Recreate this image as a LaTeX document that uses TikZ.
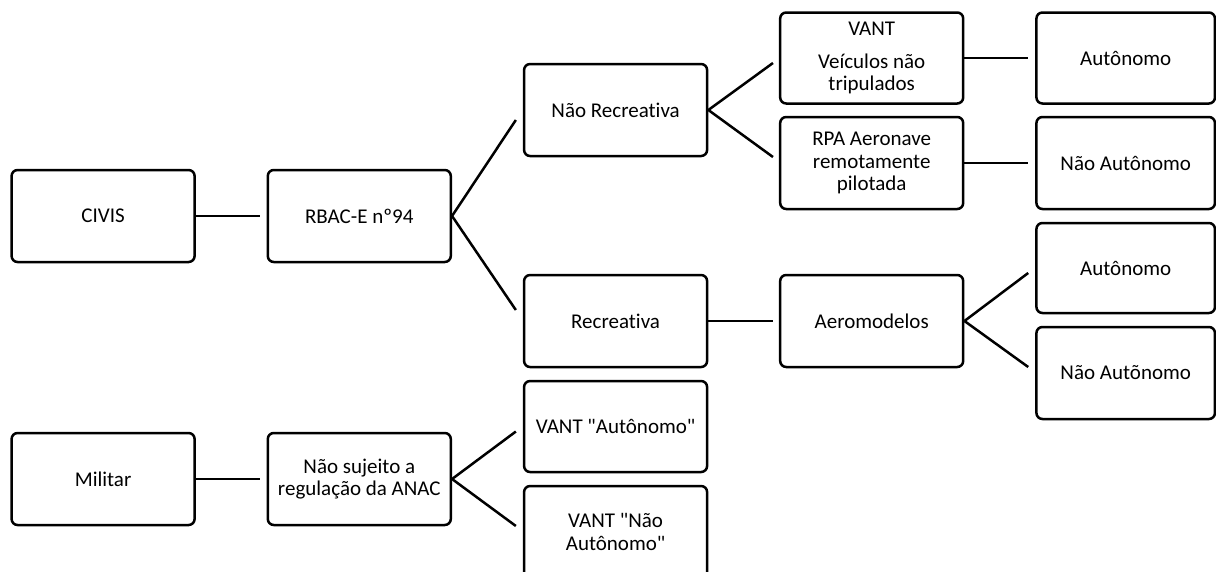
\documentclass[tikz,border=0pt]{standalone}
\usepackage{fontspec}
\newfontfamily\calib{Carlito}[Ligatures=NoCommon]
\usetikzlibrary{calc}
\begin{document}
\begin{tikzpicture}[x=1pt,y=-1pt,
  box/.style={draw,line width=2.5pt,rounded corners=6pt,minimum height=92pt,minimum width=183pt,inner sep=2pt,align=center,font=\calib\fontsize{21}{22.5}\selectfont},
  rbox/.style={box,minimum width=178.5pt},
  con/.style={line width=2.5pt}]
\useasboundingbox (0,0) rectangle (1216,571);
\clip (0,0) rectangle (1216,571);
\node[box] (civis) at (103.1,216) {CIVIS};
\node[box] (rbac) at (359.3,216) {RBAC-E nº94};
\node[box] (nr) at (615.6,110) {Não Recreativa};
\node[box] (rec) at (615.6,321) {Recreativa};
\node[box,minimum height=91pt] (vant) at (871.7,58) {VANT\\[10pt]Veículos não\\tripulados};
\node[box] (rpa) at (871.7,163) {RPA Aeronave\\remotamente\\pilotada};
\node[rbox,minimum height=91pt] (aut1) at (1125.7,58) {Autônomo};
\node[rbox] (naut1) at (1125.7,163) {Não Autônomo};
\node[box] (aero) at (871.7,321) {Aeromodelos};
\node[rbox,minimum height=90pt] (aut2) at (1125.7,268) {Autônomo};
\node[rbox] (naut2) at (1125.7,373) {Não Autõnomo};
\node[box] (mil) at (103.1,479) {Militar};
\node[box] (nsj) at (359.3,479) {Não sujeito a\\regulação da ANAC};
\node[box,minimum height=91pt] (va) at (615.6,426.5) {VANT "Autônomo"};
\node[box] (vna) at (615.6,532) {VANT "Não\\Autônomo"};
\draw[con] (civis.east) -- ($(rbac.west)+(-7,0)$);
\draw[con] (rbac.east) -- ($(nr.west)+(-7,10)$);
\draw[con] (rbac.east) -- ($(rec.west)+(-7,-11)$);
\draw[con] (nr.east) -- ($(vant.west)+(-6,5)$);
\draw[con] (nr.east) -- ($(rpa.west)+(-6,-6)$);
\draw[con] (vant.east) -- ($(aut1.west)+(-7,0)$);
\draw[con] (rpa.east) -- ($(naut1.west)+(-7,0)$);
\draw[con] (rec.east) -- ($(aero.west)+(-6,0)$);
\draw[con] (aero.east) -- ($(aut2.west)+(-7,5)$);
\draw[con] (aero.east) -- ($(naut2.west)+(-7,-6)$);
\draw[con] (mil.east) -- ($(nsj.west)+(-7,0)$);
\draw[con] (nsj.east) -- ($(va.west)+(-7,5)$);
\draw[con] (nsj.east) -- ($(vna.west)+(-7,-6)$);
\end{tikzpicture}
\end{document}
